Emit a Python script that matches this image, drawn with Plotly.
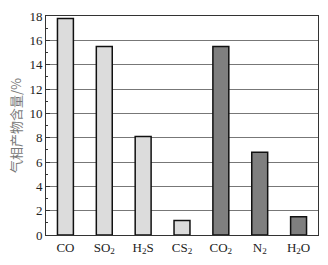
import plotly.graph_objects as go

categories = ["CO", "SO<sub>2</sub>", "H<sub>2</sub>S", "CS<sub>2</sub>", "CO<sub>2</sub>", "N<sub>2</sub>", "H<sub>2</sub>O"]
values = [17.8, 15.5, 8.1, 1.2, 15.5, 6.8, 1.5]
colors = ["#dcdcdc", "#dcdcdc", "#dcdcdc", "#dcdcdc", "#7f7f7f", "#7f7f7f", "#7f7f7f"]

fig = go.Figure(go.Bar(
    x=categories, y=values,
    marker=dict(color=colors, line=dict(color="#111111", width=1.5)),
    width=0.41,
))

font = "Liberation Serif, Times New Roman, serif"
fig.update_layout(
    width=328, height=265,
    margin=dict(l=46, r=9, t=12, b=26),
    plot_bgcolor="white", paper_bgcolor="white",
    showlegend=False,
    font=dict(family=font, size=13, color="#222"),
)
fig.update_xaxes(
    showline=True, linecolor="#333", linewidth=1, mirror=True,
    ticks="", tickfont=dict(family=font, size=13),
)
fig.update_yaxes(
    range=[0, 18], dtick=2, showline=True, linecolor="#333", linewidth=1, mirror=True,
    ticks="inside", ticklen=4, tickcolor="#333",
    minor=dict(dtick=1, ticks="inside", ticklen=2, tickcolor="#333", showgrid=False),
    showgrid=True, gridcolor="#777", gridwidth=1,
    tickfont=dict(family=font, size=13),
    title=dict(text="气相产物含量/%", font=dict(family="Noto Sans CJK SC", size=13, color="#777"), standoff=4),
    zeroline=False,
)
fig.write_html("out.html")
